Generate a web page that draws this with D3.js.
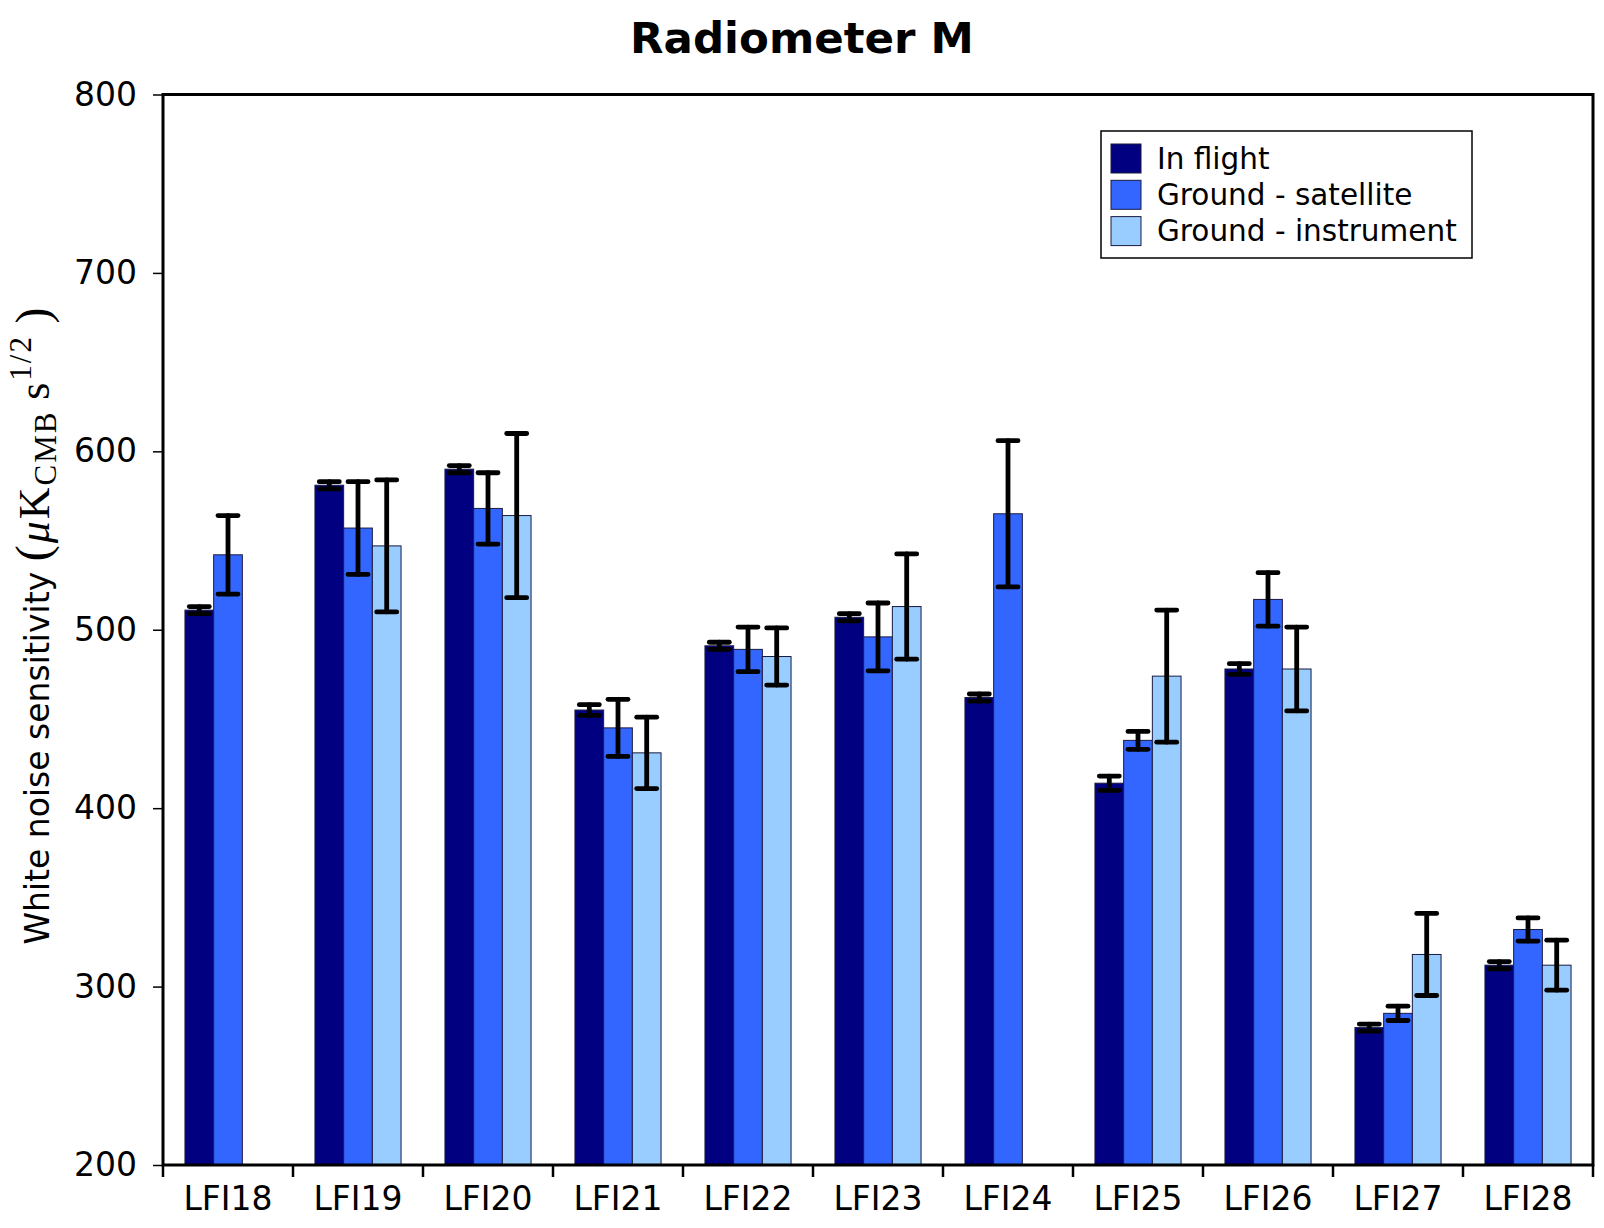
<!DOCTYPE html>
<html>
<head>
<meta charset="utf-8">
<script src="https://cdn.jsdelivr.net/npm/d3@7"></script>
<style>
  body { margin: 0; background: #fff; }
  text { font-family: "DejaVu Sans", sans-serif; }
</style>
</head>
<body>
<div id="chart"></div>
<script>
const categories = ["LFI18", "LFI19", "LFI20", "LFI21", "LFI22", "LFI23", "LFI24", "LFI25", "LFI26", "LFI27", "LFI28"];
const seriesNames = ["In flight", "Ground - satellite", "Ground - instrument"];
const seriesColors = ["#000080", "#3366ff", "#99ccff"];

const flight       = [511, 581, 590, 455, 491, 507, 462, 414, 478, 277, 312];
const flightErr    = [2, 2, 2, 3, 2, 2, 2, 4, 3, 2, 2];
const satellite    = [542, 557, 568, 445, 489, 496, 565, 438, 517, 285, 332];
const satelliteErr = [22, 26, 20, 16, 12.5, 19, 41, 5, 15, 4, 6.5];
const instrument   = [null, 547, 564, 431, 485, 513, null, 474, 478, 318, 312];
const instrumentErr = [null, 37, 46, 20, 16, 29.5, null, 37, 23.5, 23, 14];

const yTicks = [200, 300, 400, 500, 600, 700, 800];

function renderChart(){
    const W = 1604, H = 1228;
    const margin = { top: 94.5, right: 11, bottom: 63, left: 163 };
    const width = W - margin.left - margin.right;
    const height = H - margin.top - margin.bottom;

    const svg = d3.select("#chart").append("svg")
        .attr("width", W)
        .attr("height", H);

    svg.append("rect").attr("width", W).attr("height", H).attr("fill", "#fff");

    const g = svg.append("g")
        .attr("transform", `translate(${margin.left}, ${margin.top})`);

    const x0 = d3.scaleBand().domain(categories).range([0, width]).padding(0);
    const x1 = d3.scaleBand().domain(seriesNames).range([0, x0.bandwidth()])
        .paddingInner(0).paddingOuter(0.765);
    const y = d3.scaleLinear().domain([200, 800]).range([height, 0]);

    const rows = [];
    categories.forEach((c, i) => {
        [[flight, flightErr], [satellite, satelliteErr], [instrument, instrumentErr]].forEach(([v, e], s) => {
            if (v[i] != null) rows.push({ cat: c, series: seriesNames[s], color: seriesColors[s], value: v[i], err: e[i] });
        });
    });

    // bars
    g.selectAll(".bar").data(rows).enter().append("rect")
        .attr("class", "bar")
        .attr("x", d => x0(d.cat) + x1(d.series))
        .attr("y", d => y(d.value))
        .attr("width", x1.bandwidth())
        .attr("height", d => height - y(d.value))
        .attr("fill", d => d.color)
        .attr("stroke", "#1a1a40")
        .attr("stroke-width", 1);

    // error bars
    const capW = 10;
    const eb = g.selectAll(".err").data(rows).enter().append("g")
        .attr("class", "err")
        .attr("stroke", "#000")
        .attr("stroke-width", 4.8)
        .attr("stroke-linecap", "round");
    const cx = d => x0(d.cat) + x1(d.series) + x1.bandwidth() / 2;
    eb.append("line")
        .attr("x1", cx).attr("x2", cx)
        .attr("y1", d => y(d.value + d.err)).attr("y2", d => y(d.value - d.err));
    eb.append("line")
        .attr("x1", d => cx(d) - capW).attr("x2", d => cx(d) + capW)
        .attr("y1", d => y(d.value + d.err)).attr("y2", d => y(d.value + d.err));
    eb.append("line")
        .attr("x1", d => cx(d) - capW).attr("x2", d => cx(d) + capW)
        .attr("y1", d => y(d.value - d.err)).attr("y2", d => y(d.value - d.err));

    // frame
    g.append("rect")
        .attr("width", width).attr("height", height)
        .attr("fill", "none").attr("stroke", "#000").attr("stroke-width", 3);

    // y axis
    const yAxis = g.append("g")
        .call(d3.axisLeft(y).tickValues(yTicks).tickSize(10).tickPadding(16).tickFormat(d3.format("d")));
    yAxis.select(".domain").remove();
    yAxis.selectAll("line").attr("stroke-width", 1.5);
    yAxis.selectAll("text").attr("font-size", 33).attr("fill", "#000")
        .attr("font-family", "DejaVu Sans");

    // x axis: ticks at group boundaries, labels centered
    const bounds = categories.map(c => x0(c)).concat([width]);
    g.append("g").selectAll("line").data(bounds).enter().append("line")
        .attr("x1", d => d).attr("x2", d => d)
        .attr("y1", height).attr("y2", height + 12)
        .attr("stroke", "#000").attr("stroke-width", 2.5);
    g.append("g").selectAll("text").data(categories).enter().append("text")
        .attr("x", d => x0(d) + x0.bandwidth() / 2)
        .attr("y", height + 45)
        .attr("text-anchor", "middle")
        .attr("font-size", 33)
        .text(d => d);

    // title
    svg.append("text")
        .attr("x", W / 2).attr("y", 53)
        .attr("text-anchor", "middle")
        .attr("font-size", 43.5).attr("font-weight", "bold")
        .text("Radiometer M");

    // y label
    const yl = svg.append("text")
        .attr("transform", `translate(49, 625) rotate(-90)`)
        .attr("text-anchor", "middle")
        .attr("font-size", 33);
    yl.append("tspan").text("White noise sensitivity ");
    const serif = "Liberation Serif, DejaVu Serif, serif";
    const m = yl.append("tspan").attr("font-family", serif).attr("letter-spacing", 2);
    m.append("tspan").attr("font-size", 48).text("(");
    m.append("tspan").attr("font-size", 44).attr("font-style", "italic").text("\u03bc");
    m.append("tspan").attr("font-size", 44).text("K");
    m.append("tspan").attr("font-size", 31).attr("dy", 7).text("CMB");
    m.append("tspan").attr("font-size", 44).attr("dy", -7).text("\u2009s");
    m.append("tspan").attr("font-size", 31).attr("dy", -18).text("1/2");
    m.append("tspan").attr("font-size", 48).attr("dy", 18).text("\u2009)");

    // legend
    const lg = svg.append("g").attr("transform", "translate(1101, 131)");
    lg.append("rect").attr("width", 371).attr("height", 127)
        .attr("fill", "#fff").attr("stroke", "#000").attr("stroke-width", 1.5);
    const item = lg.selectAll(".item").data(seriesNames).enter().append("g")
        .attr("transform", (d, i) => `translate(10, ${13 + i * 36.3})`);
    item.append("rect").attr("width", 30).attr("height", 29)
        .attr("fill", (d, i) => seriesColors[i])
        .attr("stroke", "#1a1a40").attr("stroke-width", 1);
    item.append("text").attr("x", 46).attr("y", 14.5).attr("dy", "0.35em")
        .attr("font-size", 29.5).text(d => d);
}
renderChart();
</script>
</body>
</html>
